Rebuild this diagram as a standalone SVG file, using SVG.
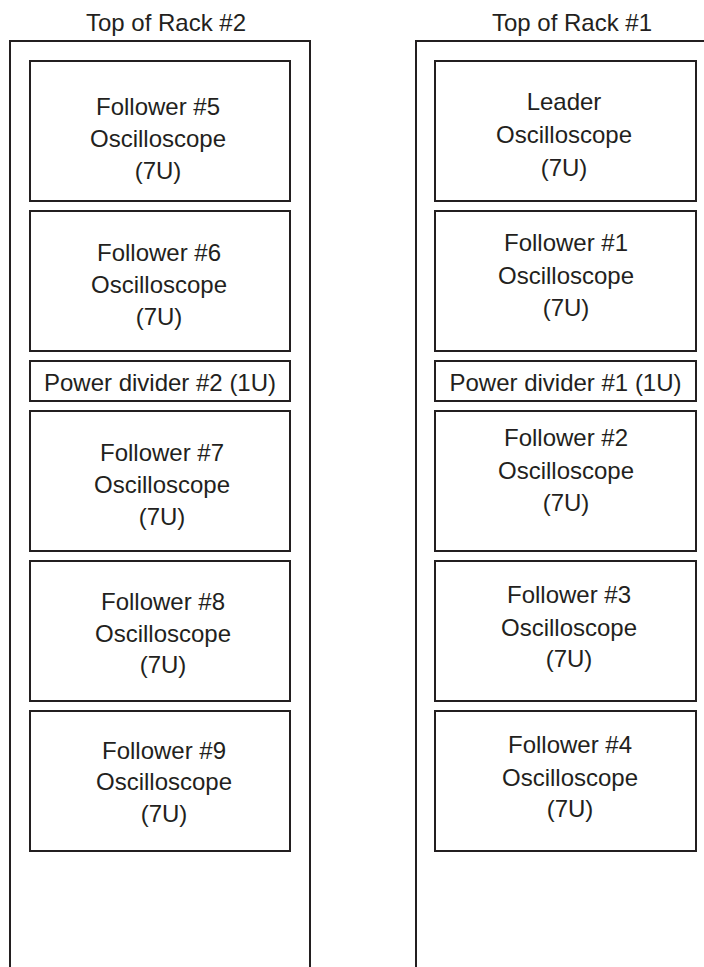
<svg xmlns="http://www.w3.org/2000/svg" width="704" height="967" viewBox="0 0 704 967">
<style>
.rack{fill:none;stroke:#231f20;stroke-width:2}
.box{fill:#fff;stroke:#231f20;stroke-width:2}
text{font-family:"Liberation Sans",Arial,sans-serif;font-size:24px;fill:#231f20;text-anchor:middle}
</style>
<rect width="704" height="967" fill="#fff"/>
<g id="rack2">
<path class="rack" d="M10,970 V41 H310 V970"/>
<text x="166" y="31">Top of Rack #2</text>
</g>
<g id="rack1">
<path class="rack" d="M416,970 V41 H706"/>
<text x="572" y="31">Top of Rack #1</text>
</g>
<g id="connectors"></g>
<g id="follower5">
<rect class="box" x="30" y="61" width="260" height="140"/>
<text x="158" y="115">Follower #5</text>
<text x="158" y="147">Oscilloscope</text>
<text x="158" y="179">(7U)</text>
</g>
<g id="follower6">
<rect class="box" x="30" y="211" width="260" height="140"/>
<text x="159" y="261">Follower #6</text>
<text x="159" y="293">Oscilloscope</text>
<text x="159" y="325">(7U)</text>
</g>
<g id="divider2">
<rect class="box" x="30" y="361" width="260" height="40"/>
<text x="160" y="391">Power divider #2 (1U)</text>
</g>
<g id="follower7">
<rect class="box" x="30" y="411" width="260" height="140"/>
<text x="162" y="461">Follower #7</text>
<text x="162" y="493">Oscilloscope</text>
<text x="162" y="525">(7U)</text>
</g>
<g id="follower8">
<rect class="box" x="30" y="561" width="260" height="140"/>
<text x="163" y="610">Follower #8</text>
<text x="163" y="642">Oscilloscope</text>
<text x="163" y="673">(7U)</text>
</g>
<g id="follower9">
<rect class="box" x="30" y="711" width="260" height="140"/>
<text x="164" y="759">Follower #9</text>
<text x="164" y="790">Oscilloscope</text>
<text x="164" y="822">(7U)</text>
</g>
<g id="leader">
<rect class="box" x="435" y="61" width="261" height="140"/>
<text x="564" y="110">Leader</text>
<text x="564" y="143">Oscilloscope</text>
<text x="564" y="176">(7U)</text>
</g>
<g id="follower1">
<rect class="box" x="435" y="211" width="261" height="140"/>
<text x="566" y="251">Follower #1</text>
<text x="566" y="284">Oscilloscope</text>
<text x="566" y="316">(7U)</text>
</g>
<g id="divider1">
<rect class="box" x="435" y="361" width="261" height="40"/>
<text x="565.5" y="391">Power divider #1 (1U)</text>
</g>
<g id="follower2">
<rect class="box" x="435" y="411" width="261" height="140"/>
<text x="566" y="446">Follower #2</text>
<text x="566" y="479">Oscilloscope</text>
<text x="566" y="511">(7U)</text>
</g>
<g id="follower3">
<rect class="box" x="435" y="561" width="261" height="140"/>
<text x="569" y="603">Follower #3</text>
<text x="569" y="636">Oscilloscope</text>
<text x="569" y="667">(7U)</text>
</g>
<g id="follower4">
<rect class="box" x="435" y="711" width="261" height="140"/>
<text x="570" y="753">Follower #4</text>
<text x="570" y="786">Oscilloscope</text>
<text x="570" y="817">(7U)</text>
</g>
</svg>
